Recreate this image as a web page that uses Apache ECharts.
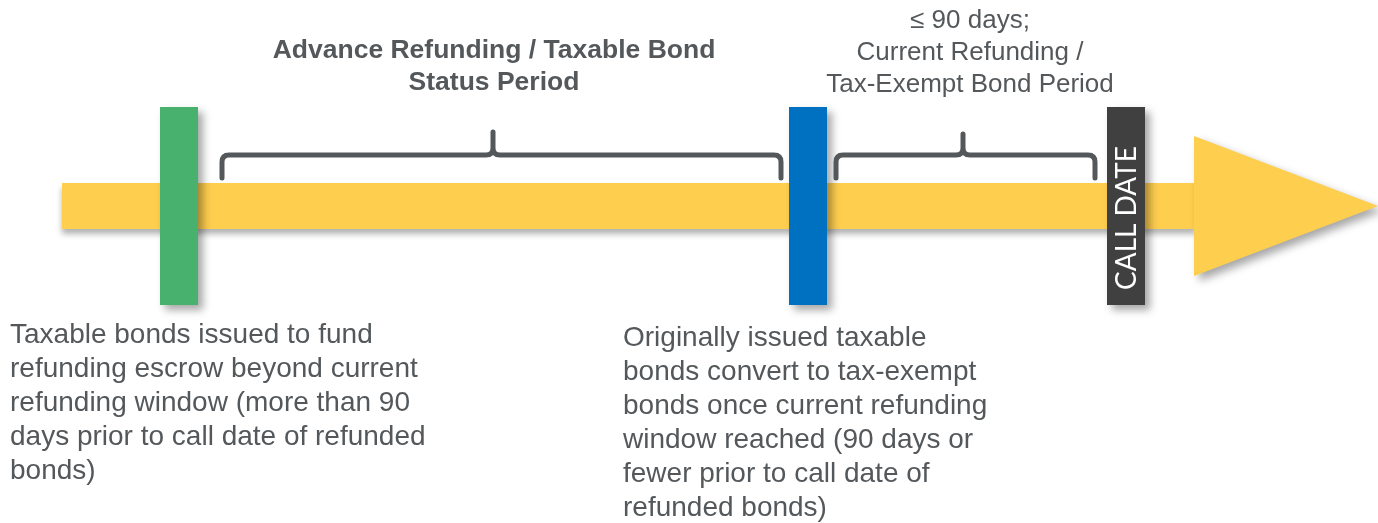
<!DOCTYPE html>
<html>
<head>
<meta charset="utf-8">
<script src="https://cdn.jsdelivr.net/npm/echarts@6/dist/echarts.min.js"></script>
<style>html,body{margin:0;padding:0;background:#fff}#chart{width:1378px;height:523px}</style>
</head>
<body>
<div id="chart"></div>
<script>
// Timeline diagram data (axis units)
const shaft = [[62, 1196, 183, 229]];            // xStart, xEnd, yTop, yBottom
const arrowHead = [[1194, 1378, 136, 276, 206]];  // xBase, xTip, yTop, yBottom, yTip
const markerNames = ['Taxable issue', 'Conversion', 'CALL DATE'];
const markerX = [[160, 198], [789, 827], [1107, 1145]];
const markerY = [107, 305];
const brackets = [[222, 781, 493, 155, 178, 132], [836, 1095, 963, 155, 178, 134]]; // x0,x1,xMid,yLine,yEnd,yPeak
const headingTexts = ['Advance Refunding / Taxable Bond\nStatus Period', '≤ 90 days;\nCurrent Refunding /\nTax-Exempt Bond Period'];
const headingPos = [[494, 35], [970, 5]];
const noteTexts = [
  'Taxable bonds issued to fund\nrefunding escrow beyond current\nrefunding window (more than 90\ndays prior to call date of refunded\nbonds)',
  'Originally issued taxable\nbonds convert to tax-exempt\nbonds once current refunding\nwindow reached (90 days or\nfewer prior to call date of\nrefunded bonds)'
];
const notePos = [[10, 318], [623, 321]];

const markerColors = ['#48B16D', '#0070C0', '#404040'];
const yellow = '#FECE4F';
const gray = '#54585B';
const shadow = {shadowBlur: 8, shadowOffsetX: 5, shadowOffsetY: 5, shadowColor: 'rgba(0,0,0,0.35)'};

const chart = echarts.init(document.getElementById('chart'));
chart.setOption({
  animation: false,
  grid: {left: 0, right: 0, top: 0, bottom: 0},
  xAxis: {type: 'value', min: 0, max: 1378, show: false},
  yAxis: {type: 'value', min: 0, max: 523, inverse: true, show: false},
  series: [
    {
      type: 'custom', clip: false, z: 1,
      data: shaft,
      renderItem: (p, api) => {
        const a = api.coord([api.value(0), api.value(2)]);
        const b = api.coord([api.value(1), api.value(3)]);
        return {type: 'rect', shape: {x: a[0], y: a[1], width: b[0] - a[0], height: b[1] - a[1]},
          style: Object.assign({fill: yellow}, {shadowBlur: 6, shadowOffsetX: 0, shadowOffsetY: 5, shadowColor: 'rgba(0,0,0,0.3)'})};
      }
    },
    {
      type: 'custom', clip: false, z: 2,
      data: arrowHead,
      renderItem: (p, api) => {
        const p1 = api.coord([api.value(0), api.value(2)]);
        const p2 = api.coord([api.value(1), api.value(4)]);
        const p3 = api.coord([api.value(0), api.value(3)]);
        return {type: 'polygon', shape: {points: [p1, p2, p3]}, style: Object.assign({fill: yellow}, shadow)};
      }
    },
    {
      type: 'custom', clip: false, z: 3,
      data: markerX.map((m, i) => [m[0], m[1], markerY[0], markerY[1], i]),
      renderItem: (p, api) => {
        const i = api.value(4);
        const a = api.coord([api.value(0), api.value(2)]);
        const b = api.coord([api.value(1), api.value(3)]);
        const children = [{type: 'rect', shape: {x: a[0], y: a[1], width: b[0] - a[0], height: b[1] - a[1]},
          style: Object.assign({fill: markerColors[i]}, shadow)}];
        if (markerNames[i] === 'CALL DATE') {
          const c = api.coord([(api.value(0) + api.value(1)) / 2, 218]);
          children.push({type: 'text', x: c[0] + 1, y: c[1], rotation: Math.PI / 2,
            style: {text: markerNames[i], x: 0, y: 0, align: 'center', verticalAlign: 'middle',
              font: '28px Lato, "Open Sans", sans-serif', fill: '#ffffff'}});
        }
        return {type: 'group', children};
      }
    },
    {
      type: 'custom', clip: false, z: 4,
      data: brackets,
      renderItem: (p, api) => {
        const x0 = api.value(0), x1 = api.value(1), xm = api.value(2), yl = api.value(3), ye = api.value(4), yp = api.value(5);
        const c = (x, y) => api.coord([x, y]);
        const r = 7;
        const P = (pt) => pt[0].toFixed(1) + ' ' + pt[1].toFixed(1);
        const d = 'M' + P(c(x0, ye)) + ' L' + P(c(x0, yl + r)) + ' Q' + P(c(x0, yl)) + ' ' + P(c(x0 + r, yl)) +
          ' L' + P(c(xm - r, yl)) + ' Q' + P(c(xm, yl)) + ' ' + P(c(xm, yl - r)) + ' L' + P(c(xm, yp)) +
          ' M' + P(c(xm, yl - r)) + ' Q' + P(c(xm, yl)) + ' ' + P(c(xm + r, yl)) +
          ' L' + P(c(x1 - r, yl)) + ' Q' + P(c(x1, yl)) + ' ' + P(c(x1, yl + r)) + ' L' + P(c(x1, ye));
        return {type: 'path', shape: {pathData: d},
          style: {fill: 'none', stroke: gray, lineWidth: 5, lineCap: 'round', lineJoin: 'round'}};
      }
    },
    {
      type: 'custom', clip: false, z: 5,
      data: headingPos.map((h, i) => [h[0], h[1], i]),
      renderItem: (p, api) => {
        const i = api.value(2);
        const c = api.coord([api.value(0), api.value(1)]);
        return {type: 'text', style: {text: headingTexts[i], x: c[0], y: c[1], align: 'center', verticalAlign: 'top',
          font: (i === 0 ? 'bold 26.5px ' : '26px ') + '"Liberation Sans", Arial, sans-serif', lineHeight: 32, fill: gray}};
      }
    },
    {
      type: 'custom', clip: false, z: 5,
      data: notePos.map((h, i) => [h[0], h[1], i]),
      renderItem: (p, api) => {
        const i = api.value(2);
        const c = api.coord([api.value(0), api.value(1)]);
        return {type: 'text', style: {text: noteTexts[i], x: c[0], y: c[1], align: 'left', verticalAlign: 'top',
          font: '28px "Liberation Sans", Arial, sans-serif', lineHeight: 34, fill: gray}};
      }
    }
  ]
});
</script>
</body>
</html>
